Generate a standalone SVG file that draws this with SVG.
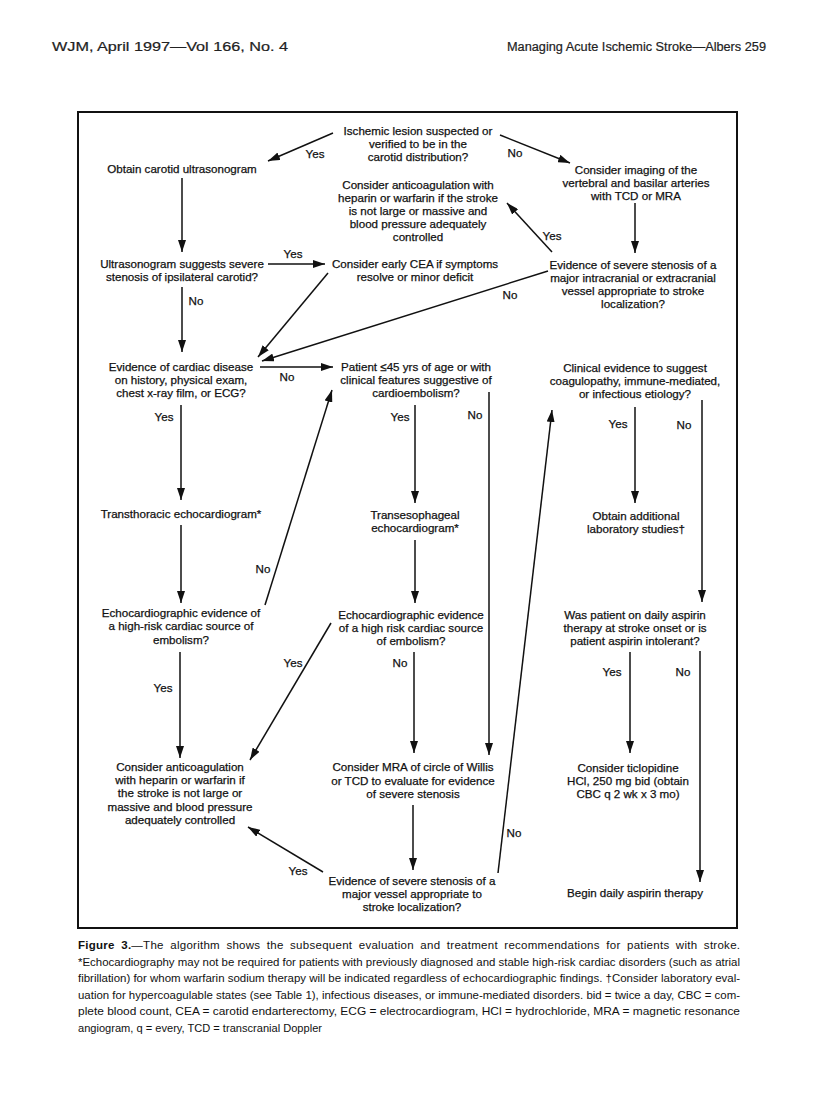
<svg xmlns="http://www.w3.org/2000/svg" width="816" height="1093" viewBox="0 0 816 1093">
<style>
.t{font-family:"Liberation Sans",Arial,Helvetica,sans-serif;font-size:11.6px;text-anchor:middle;fill:#111;stroke:#111;stroke-width:0.25}
.l{font-family:"Liberation Sans",Arial,Helvetica,sans-serif;font-size:11.6px;text-anchor:middle;fill:#111;stroke:#111;stroke-width:0.25}
.h{font-family:"Liberation Sans",Arial,Helvetica,sans-serif;font-size:12.5px;fill:#222;stroke:#222;stroke-width:0.2}
.c{font-family:"Liberation Sans",Arial,Helvetica,sans-serif;font-size:11.5px;fill:#111}
.cn line{stroke:#111;stroke-width:1.5;marker-end:url(#ah)}
</style>
<defs>
<marker id="ah" markerWidth="12" markerHeight="8" refX="12" refY="4" orient="auto" markerUnits="userSpaceOnUse"><path d="M0,0 L12,4 L0,8 z" fill="#111"/></marker>
</defs>
<rect width="816" height="1093" fill="#fff"/>
<text class="h" x="52" y="51" textLength="236" lengthAdjust="spacingAndGlyphs">WJM, April 1997—Vol 166, No. 4</text>
<text class="h" x="766" y="51" text-anchor="end" textLength="259" lengthAdjust="spacingAndGlyphs">Managing Acute Ischemic Stroke—Albers 259</text>
<rect x="78" y="112" width="659" height="816" fill="none" stroke="#111" stroke-width="2"/>

<g id="n1"><text class="t" x="418" y="135">Ischemic lesion suspected or</text><text class="t" x="418" y="148">verified to be in the</text><text class="t" x="418" y="161">carotid distribution?</text></g>
<g id="n2"><text class="t" x="182" y="173">Obtain carotid ultrasonogram</text></g>
<g id="n3"><text class="t" x="636" y="174">Consider imaging of the</text><text class="t" x="636" y="187">vertebral and basilar arteries</text><text class="t" x="636" y="200">with TCD or MRA</text></g>
<g id="n4"><text class="t" x="418" y="189">Consider anticoagulation with</text><text class="t" x="418" y="202">heparin or warfarin if the stroke</text><text class="t" x="418" y="215">is not large or massive and</text><text class="t" x="418" y="228">blood pressure adequately</text><text class="t" x="418" y="241">controlled</text></g>
<g id="n5"><text class="t" x="182" y="268">Ultrasonogram suggests severe</text><text class="t" x="182" y="281">stenosis of ipsilateral carotid?</text></g>
<g id="n6"><text class="t" x="415" y="268">Consider early CEA if symptoms</text><text class="t" x="415" y="281">resolve or minor deficit</text></g>
<g id="n7"><text class="t" x="633" y="269">Evidence of severe stenosis of a</text><text class="t" x="633" y="282">major intracranial or extracranial</text><text class="t" x="633" y="295">vessel appropriate to stroke</text><text class="t" x="633" y="308">localization?</text></g>
<g id="n8"><text class="t" x="181" y="371">Evidence of cardiac disease</text><text class="t" x="181" y="384">on history, physical exam,</text><text class="t" x="181" y="397">chest x-ray film, or ECG?</text></g>
<g id="n9"><text class="t" x="416" y="371">Patient ≤45 yrs of age or with</text><text class="t" x="416" y="384">clinical features suggestive of</text><text class="t" x="416" y="397">cardioembolism?</text></g>
<g id="n10"><text class="t" x="635" y="372">Clinical evidence to suggest</text><text class="t" x="635" y="385">coagulopathy, immune-mediated,</text><text class="t" x="635" y="398">or infectious etiology?</text></g>
<g id="n11"><text class="t" x="181" y="518">Transthoracic echocardiogram*</text></g>
<g id="n12"><text class="t" x="415" y="519">Transesophageal</text><text class="t" x="415" y="532">echocardiogram*</text></g>
<g id="n13"><text class="t" x="636" y="520">Obtain additional</text><text class="t" x="636" y="533">laboratory studies†</text></g>
<g id="n14"><text class="t" x="181" y="617">Echocardiographic evidence of</text><text class="t" x="181" y="630">a high-risk cardiac source of</text><text class="t" x="181" y="644">embolism?</text></g>
<g id="n15"><text class="t" x="411" y="619">Echocardiographic evidence</text><text class="t" x="411" y="632">of a high risk cardiac source</text><text class="t" x="411" y="645">of embolism?</text></g>
<g id="n16"><text class="t" x="635" y="619">Was patient on daily aspirin</text><text class="t" x="635" y="632">therapy at stroke onset or is</text><text class="t" x="635" y="645">patient aspirin intolerant?</text></g>
<g id="n17"><text class="t" x="180" y="771">Consider anticoagulation</text><text class="t" x="180" y="784">with heparin or warfarin if</text><text class="t" x="180" y="797">the stroke is not large or</text><text class="t" x="180" y="811">massive and blood pressure</text><text class="t" x="180" y="824">adequately controlled</text></g>
<g id="n18"><text class="t" x="413" y="771">Consider MRA of circle of Willis</text><text class="t" x="413" y="785">or TCD to evaluate for evidence</text><text class="t" x="413" y="798">of severe stenosis</text></g>
<g id="n19"><text class="t" x="628" y="772">Consider ticlopidine</text><text class="t" x="628" y="785">HCl, 250 mg bid (obtain</text><text class="t" x="628" y="798">CBC q 2 wk x 3 mo)</text></g>
<g id="n20"><text class="t" x="412" y="885">Evidence of severe stenosis of a</text><text class="t" x="412" y="898">major vessel appropriate to</text><text class="t" x="412" y="911">stroke localization?</text></g>
<g id="n21"><text class="t" x="635" y="897">Begin daily aspirin therapy</text></g>

<g id="connectors" class="cn">
<line x1="333" y1="133" x2="268" y2="161"/>
<line x1="500" y1="135" x2="570" y2="163"/>
<line x1="182" y1="178" x2="182" y2="252"/>
<line x1="268" y1="264" x2="325" y2="264"/>
<line x1="328" y1="273" x2="258" y2="357"/>
<line x1="182" y1="287" x2="182" y2="352"/>
<line x1="635" y1="203" x2="635" y2="253"/>
<line x1="552" y1="252" x2="507" y2="203"/>
<line x1="548" y1="271" x2="262" y2="361"/>
<line x1="260" y1="367" x2="333" y2="367"/>
<line x1="181" y1="405" x2="181" y2="500"/>
<line x1="415" y1="405" x2="415" y2="503"/>
<line x1="489" y1="392" x2="489" y2="755"/>
<line x1="635" y1="407" x2="635" y2="503"/>
<line x1="702" y1="400" x2="702" y2="602"/>
<line x1="181" y1="525" x2="181" y2="603"/>
<line x1="415" y1="540" x2="415" y2="603"/>
<line x1="265" y1="605" x2="332" y2="390"/>
<line x1="331" y1="623" x2="250" y2="760"/>
<line x1="180" y1="652" x2="180" y2="758"/>
<line x1="414" y1="652" x2="414" y2="753"/>
<line x1="630" y1="652" x2="630" y2="753"/>
<line x1="700" y1="651" x2="700" y2="882"/>
<line x1="413" y1="805" x2="413" y2="870"/>
<line x1="323" y1="872" x2="248" y2="827"/>
<line x1="498" y1="873" x2="552" y2="410"/>
</g>
<g id="labels">
<text class="l" x="315" y="158">Yes</text>
<text class="l" x="515" y="157">No</text>
<text class="l" x="293" y="258">Yes</text>
<text class="l" x="196" y="305">No</text>
<text class="l" x="552" y="240">Yes</text>
<text class="l" x="510" y="299">No</text>
<text class="l" x="287" y="381">No</text>
<text class="l" x="164" y="421">Yes</text>
<text class="l" x="400" y="421">Yes</text>
<text class="l" x="475" y="419">No</text>
<text class="l" x="618" y="428">Yes</text>
<text class="l" x="684" y="429">No</text>
<text class="l" x="263" y="573">No</text>
<text class="l" x="293" y="667">Yes</text>
<text class="l" x="163" y="692">Yes</text>
<text class="l" x="400" y="667">No</text>
<text class="l" x="612" y="676">Yes</text>
<text class="l" x="683" y="676">No</text>
<text class="l" x="298" y="875">Yes</text>
<text class="l" x="514" y="837">No</text>
</g>
<g id="caption">
<text class="c" x="78" y="949" textLength="662" lengthAdjust="spacing" word-spacing="3"><tspan font-weight="bold">Figure 3.</tspan>—The algorithm shows the subsequent evaluation and treatment recommendations for patients with stroke.</text>
<text class="c" x="78" y="966" textLength="662" lengthAdjust="spacingAndGlyphs">*Echocardiography may not be required for patients with previously diagnosed and stable high-risk cardiac disorders (such as atrial</text>
<text class="c" x="78" y="982" textLength="662" lengthAdjust="spacingAndGlyphs">fibrillation) for whom warfarin sodium therapy will be indicated regardless of echocardiographic findings. †Consider laboratory eval-</text>
<text class="c" x="78" y="999" textLength="662" lengthAdjust="spacingAndGlyphs">uation for hypercoagulable states (see Table 1), infectious diseases, or immune-mediated disorders. bid = twice a day, CBC = com-</text>
<text class="c" x="78" y="1015" textLength="662" lengthAdjust="spacingAndGlyphs">plete blood count, CEA = carotid endarterectomy, ECG = electrocardiogram, HCl = hydrochloride, MRA = magnetic resonance</text>
<text class="c" x="78" y="1032" textLength="244" lengthAdjust="spacingAndGlyphs">angiogram, q = every, TCD = transcranial Doppler</text>
</g>
</svg>
